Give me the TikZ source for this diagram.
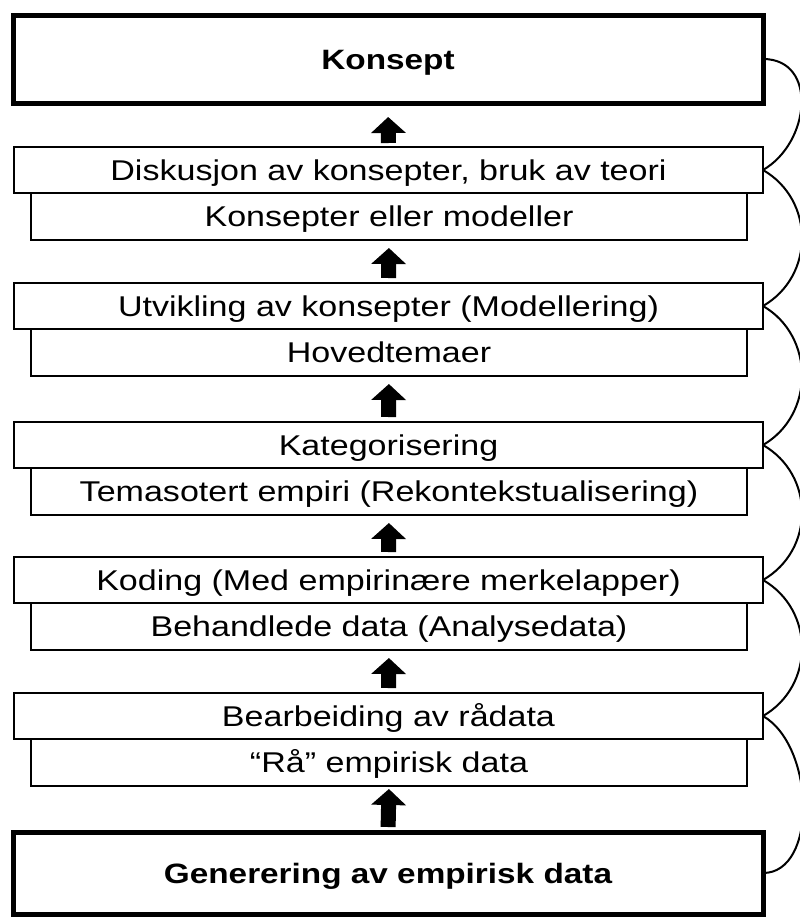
\documentclass[tikz,border=0pt]{standalone}
\usepackage{fontspec}
\setmainfont{Liberation Sans}[FakeStretch=1.19]
\usetikzlibrary{arrows.meta}
\begin{document}
\begin{tikzpicture}[x=1pt,y=1pt,
  box/.style={draw, line width=2.5pt, fill=white, inner sep=0pt, outer sep=0pt,
    text height=20pt, text depth=0pt, font=\fontsize{28.6}{32}\selectfont},
  bigbox/.style={box, line width=5pt, minimum width=750pt,
    font=\fontsize{28}{32}\selectfont\bfseries},
  upperbox/.style={box, minimum width=749pt, minimum height=46pt},
  lowerbox/.style={box, minimum width=716pt, minimum height=47pt},
  blockarrow/.style={line width=15pt, -{Triangle[length=16pt 0, width=34pt 0]}},
  loopline/.style={line width=2pt}]
\useasboundingbox (0,0) rectangle (800,-918);

\node[bigbox, minimum height=88pt] (k) at (388,-59) {Konsept};

\node[lowerbox] (l1) at (389,-216.5) {Konsepter eller modeller};
\node[upperbox] (u1) at (388.5,-170) {Diskusjon av konsepter, bruk av teori};

\node[lowerbox] (l2) at (389,-352.5) {Hovedtemaer};
\node[upperbox] (u2) at (388.5,-306) {Utvikling av konsepter (Modellering)};

\node[lowerbox] (l3) at (389,-491.5) {Temasotert empiri (Rekontekstualisering)};
\node[upperbox] (u3) at (388.5,-445) {Kategorisering};

\node[lowerbox] (l4) at (389,-626.5) {Behandlede data (Analysedata)};
\node[upperbox] (u4) at (388.5,-580) {Koding (Med empirinære merkelapper)};

\node[lowerbox] (l5) at (389,-762.5) {“Rå” empirisk data};
\node[upperbox] (u5) at (388.5,-716) {Bearbeiding av rådata};

\node[bigbox, minimum height=82pt] (g) at (388,-873) {Generering av empirisk data};

% block arrows
\draw[blockarrow, shorten <=4pt, shorten >=14pt] (u1.north) -- (k.south);
\draw[blockarrow, shorten <=5pt, shorten >=8pt] (u2.north) -- (l1.south);
\draw[blockarrow, shorten <=5pt, shorten >=8pt] (u3.north) -- (l2.south);
\draw[blockarrow, shorten <=5pt, shorten >=8pt] (u4.north) -- (l3.south);
\draw[blockarrow, shorten <=5pt, shorten >=8pt] (u5.north) -- (l4.south);
\draw[blockarrow, shorten <=5pt, shorten >=3pt] (g.north) -- (l5.south);

% right-side loops
\draw[loopline] (k.east) .. controls +(0:55) and +(30:55) .. (u1.east);
\draw[loopline] (u1.east) .. controls +(-30:60) and +(30:60) .. (u2.east);
\draw[loopline] (u2.east) .. controls +(-30:60) and +(30:60) .. (u3.east);
\draw[loopline] (u3.east) .. controls +(-30:60) and +(30:60) .. (u4.east);
\draw[loopline] (u4.east) .. controls +(-30:60) and +(30:60) .. (u5.east);
\draw[loopline] (u5.east) .. controls +(-30:60) and +(0:55) .. (g.east);
\end{tikzpicture}
\end{document}
